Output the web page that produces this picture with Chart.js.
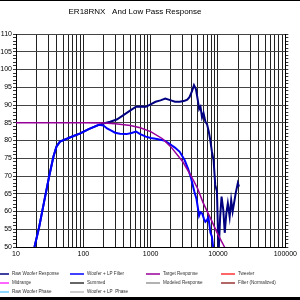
<!DOCTYPE html>
<html>
<head>
<meta charset="utf-8">
<script src="https://cdn.jsdelivr.net/npm/chart.js@4"></script>
<style>
  html, body { margin: 0; padding: 0; background: #fff; }
  #wrap { width: 300px; height: 300px; }
</style>
</head>
<body>
<div id="wrap"><canvas id="resp" width="300" height="300"></canvas></div>
<script>
// frequency (Hz) / level (dB)
var rawFreq = [18.8, 22, 26, 31, 36, 40, 45, 55, 70, 90, 120, 150, 170,
  200, 250, 313, 370, 436, 520, 608, 720, 848, 1000, 1180, 1400, 1650, 2000, 2300, 2700,
  3200, 3500, 3770, 4100, 4400, 4700, 5000, 5250, 5500, 5800, 6100, 6500, 6900, 7300, 7700,
  8100, 8600, 9100, 9650, 10200, 10770, 11300, 12000, 12600, 13300, 14000, 14900, 15700,
  16500, 17300, 18300, 19700, 20500];
var rawDb = [50, 55.5, 62.5, 69.8, 75.5, 78.3, 79.7, 80.4, 81.2, 82, 83.2, 84, 84.4,
  84.8, 85.3, 85.9, 86.8, 87.7, 88.7, 89.5, 89.6, 89.5, 90.2, 90.9, 91.3, 91.8, 91.3, 90.9, 90.9,
  91.2, 91.5, 92.2, 93.8, 95.6, 94.5, 91.5, 88.8, 89.5, 86.5, 87.7, 85.3, 84.5, 82.5, 80,
  77, 74.5, 67.5, 65.6, 48, 58.5, 64.2, 60.4, 54, 59.5, 62.3, 58.5, 63.2,
  60, 62.3, 65.1, 68, 67];

var lpFreq = [18.8, 22, 26, 31, 36, 40, 45, 55, 70, 90, 120, 150, 170,
  200, 225, 260, 296, 350, 436, 520, 608, 700, 848, 1000, 1180, 1400, 1644, 2000, 2290, 2700,
  3190, 3600, 3970, 4470, 4800, 5240, 5500, 5800, 6180, 6500, 6850, 7200, 7730, 8100, 8600];
var lpDb = [50, 55.5, 62.5, 69.8, 75.5, 78.3, 79.7, 80.4, 81.2, 82, 83.2, 84, 84.4,
  84.2, 83.4, 82.8, 82.2, 81.9, 81.8, 82.1, 82.5, 81.8, 81.1, 80.7, 80.5, 80.2, 79.9, 78.8, 78, 76.8,
  74.5, 72, 69.5, 65.5, 63.5, 58.8, 59.8, 59.5, 58, 57.1, 57.5, 58.5, 54, 53, 49];

var targetFreq = [10, 100, 200, 300, 500, 700, 1000, 1500, 2000, 3000, 4000, 5000, 6000, 8000, 10000, 12500, 13000];
var targetDb = [85, 85, 84.9, 84.7, 84.2, 83.6, 82.5, 80.5, 78.2, 74, 70, 66.4, 62.5, 57.5, 53.5, 50, 49.3];

var seriesNames = ['Raw Woofer Response', 'Woofer + LP Filter', 'Target Response', 'Tweeter',
  'Midrange', 'Summed', 'Modeled Response', 'Filter (Normalized)',
  'Raw Woofer Phase', 'Woofer + LP  Phase'];
var seriesColors = ['#000080', '#0000ff', '#990099', '#ff3333',
  '#ff33ff', '#333333', '#999999', '#993333',
  '#66ccff', '#999999'];
var seriesWidths = [2, 2, 1.5, 2, 2, 2, 2, 2, 2, 1];

var xDecades = [10, 100, 1000, 10000, 100000];
var yMin = 50, yMax = 110;

function pts(fs, ds) {
  return fs.map(function(f, i) { return { x: f, y: ds[i] }; });
}

var seriesData = [pts(rawFreq, rawDb), pts(lpFreq, lpDb), pts(targetFreq, targetDb)];
var drawOrder = [2, 1, 0];

var datasets = seriesNames.map(function(name, i) {
  return {
    label: name,
    data: seriesData[i] || [],
    borderColor: seriesColors[i],
    backgroundColor: seriesColors[i],
    borderWidth: seriesWidths[i],
    pointRadius: 0,
    tension: 0,
    fill: false,
    clip: 0,
    order: drawOrder[i] !== undefined ? drawOrder[i] : 5
  };
});

var font = 'Liberation Sans, Arial, sans-serif';

var extras = {
  id: 'extras',
  afterDraw: function(chart) {
    var c = chart.ctx;
    c.save();
    // frame lines
    c.fillStyle = '#000';
    c.fillRect(0, 0, 300, 1);
    c.fillRect(0, 297, 300, 3);
    // title
    c.fillStyle = '#000';
    c.font = '8px ' + font;
    c.textAlign = 'center';
    c.textBaseline = 'middle';
    c.fillText('ER18RNX   And Low Pass Response', 135, 12);
    // legend, 4 columns
    var colX = [-5, 70, 146, 221];
    var rowY = [274, 283, 292];
    c.font = '4.6px ' + font;
    c.textAlign = 'left';
    chart.data.datasets.forEach(function(ds, i) {
      var x = colX[i % 4], y = rowY[Math.floor(i / 4)];
      c.strokeStyle = ds.borderColor;
      c.lineWidth = ds.borderWidth > 1 ? 1.5 : 1;
      c.beginPath();
      c.moveTo(x, y);
      c.lineTo(x + 14, y);
      c.stroke();
      c.fillStyle = '#333';
      c.fillText(ds.label, x + 17, y);
    });
    c.restore();
  }
};

window.onload = function() {
  var ctx = document.getElementById('resp').getContext('2d');
  var chart = new Chart(ctx, {
    type: 'line',
    data: { datasets: datasets },
    plugins: [extras],
    options: {
      responsive: false,
      animation: false,
      layout: { autoPadding: false, padding: { top: 34, left: 0, right: 0, bottom: 0 } },
      plugins: { legend: { display: false }, title: { display: false }, tooltip: { enabled: false } },
      scales: {
        x: {
          type: 'logarithmic',
          min: 10,
          max: 100000,
          afterBuildTicks: function(scale) {
            var t = [];
            xDecades.forEach(function(d, k) {
              if (k === xDecades.length - 1) { t.push({ value: d }); return; }
              for (var m = 1; m < 10; m++) t.push({ value: d * m });
            });
            scale.ticks = t;
          },
          afterFit: function(scale) { scale.height = 53; },
          grid: { color: '#222', lineWidth: 1, drawTicks: false },
          border: { color: '#000' },
          ticks: {
            autoSkip: false,
            maxRotation: 0,
            padding: 3,
            color: '#000',
            font: { family: font, size: 7 },
            callback: function(v) { return xDecades.indexOf(v) >= 0 ? String(v) : ''; }
          }
        },
        y: {
          min: yMin,
          max: yMax,
          afterFit: function(scale) { scale.width = 16; },
          grid: {
            color: function(c) { return c.tick && c.tick.value % 5 === 0 ? '#444' : 'rgba(0,0,0,0)'; },
            tickColor: '#333',
            tickLength: 3,
            lineWidth: 1
          },
          border: { color: '#000' },
          ticks: {
            stepSize: 1,
            autoSkip: false,
            padding: 1,
            color: '#000',
            font: { family: font, size: 7 },
            callback: function(v) { return v % 5 === 0 ? String(v) : ''; }
          }
        },
        y2: {
          position: 'right',
          min: yMin,
          max: yMax,
          afterFit: function(scale) { scale.width = 6; },
          grid: { drawOnChartArea: false, tickColor: '#333', tickLength: 3 },
          border: { color: '#000' },
          ticks: { stepSize: 1, autoSkip: false, display: false }
        }
      }
    }
  });
};
</script>
</body>
</html>
